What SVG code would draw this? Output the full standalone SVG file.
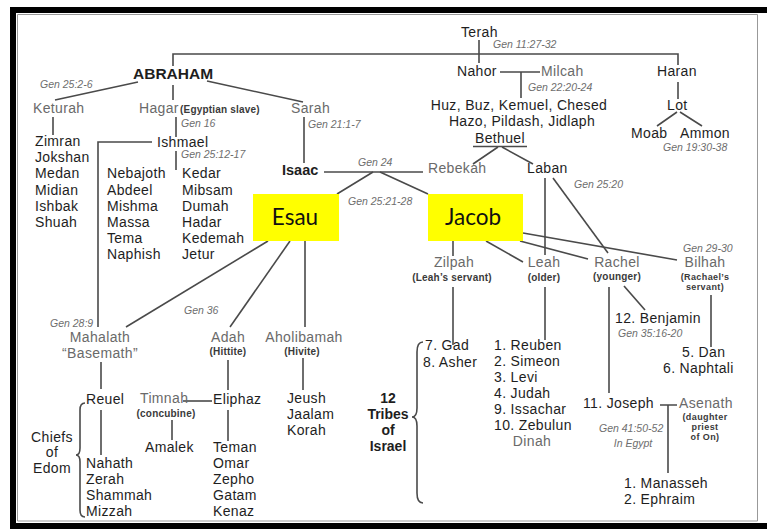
<svg xmlns="http://www.w3.org/2000/svg" width="767" height="529" viewBox="0 0 767 529">
<style>
text{font-family:"Liberation Sans",Arial,sans-serif;font-size:14px;letter-spacing:0.35px;fill:#1e1e1e}
.w{fill:#6a6a6a}
.b{font-weight:700;letter-spacing:0}
.g{font-size:10.5px;font-style:italic;fill:#6e6e6e;letter-spacing:0}
.s{font-size:10px;font-weight:700;fill:#3a3a3a;letter-spacing:0.2px}
.t{font-size:9px;font-weight:700;fill:#3a3a3a;letter-spacing:0.4px}
.m{text-anchor:middle}
.big{font-family:Lato,"Open Sans",sans-serif;font-size:22.5px;fill:#111;letter-spacing:0}
.box{fill:#ffff00}
#connectors path{fill:none;stroke:#4a4a4a;stroke-width:1.6}
</style>
<rect x="0" y="0" width="767" height="529" fill="#fff"/>
<g id="frame">
<path d="M13,529 V10 H767" fill="none" stroke="#000" stroke-width="6"/>
<path d="M10,526 H767" fill="none" stroke="#000" stroke-width="6"/>
<path d="M17.5,521 V14.5 H757.5 V521 Z" fill="none" stroke="#999" stroke-width="1"/>
</g>
<g id="connectors">
<path d="M173,66 V54 H678 V65"/>
<path d="M479,40 V63"/>
<path d="M500,72 H540 M521,72 V98"/>
<path d="M678,82 V99"/>
<path d="M677,112 L657,126 M680,112 L702,126"/>
<path d="M138,82 L55,100"/>
<path d="M173,85 V100"/>
<path d="M207,81 L303,102"/>
<path d="M53,117 V135"/>
<path d="M176,117 V137"/>
<path d="M152,142 H98 V327"/>
<path d="M176,151 V170"/>
<path d="M304,117 V163"/>
<path d="M324,172 H423"/>
<path d="M373,172 L337,194 M380,172 L428,194"/>
<path d="M498,147 L473,164 M502,147 L533,164"/>
<path d="M545,178 V255"/>
<path d="M553,178 L608,253"/>
<path d="M268,241 L126,327"/>
<path d="M290,241 L230,327"/>
<path d="M305,241 V327"/>
<path d="M453,241 V256"/>
<path d="M486,241 L523,262"/>
<path d="M520,241 L588,259"/>
<path d="M523,233 L677,260"/>
<path d="M453,287 V345"/>
<path d="M545,287 V340"/>
<path d="M609,287 V393"/>
<path d="M624,286 L645,310"/>
<path d="M711,295 V347"/>
<path d="M660,405 H677 M668,405 V473"/>
<path d="M101,362 V389"/>
<path d="M101,410 V455"/>
<path d="M228,360 V390"/>
<path d="M183,401 H212"/>
<path d="M172,420 V440"/>
<path d="M228,410 V441"/>
<path d="M303,358 V390"/>
<path d="M473,146.5 H527"/>
<path d="M423,342 Q417,342 417,352 V408 Q417,417 412,417 Q417,417 417,426 V493 Q417,503 423,503"/>
<path d="M85,403 Q80,403 80,410 V448 Q80,455 76,455 Q80,455 80,462 V510 Q80,517 85,517"/>
</g>
<g id="terah"><text x="461" y="37">Terah</text><text class="g" x="493" y="48">Gen 11:27-32</text></g>
<g id="nahor"><text x="457" y="76">Nahor</text></g>
<g id="milcah"><text class="w" x="541" y="76">Milcah</text><text class="g" x="528" y="91">Gen 22:20-24</text></g>
<g id="haran"><text x="657" y="76">Haran</text></g>
<g id="lot"><text x="667" y="110">Lot</text></g>
<g id="moab"><text x="631" y="138">Moab</text></g>
<g id="ammon"><text x="680" y="138">Ammon</text><text class="g" x="663" y="151">Gen 19:30-38</text></g>
<g id="nahor-sons"><text class="m" x="519" y="110.3">Huz, Buz, Kemuel, Chesed</text><text class="m" x="522" y="126">Hazo, Pildash, Jidlaph</text></g>
<g id="bethuel"><text class="m" x="500" y="143">Bethuel</text></g>
<g id="rebekah"><text class="w" x="428" y="173">Rebekah</text></g>
<g id="laban"><text x="527" y="173">Laban</text><text class="g" x="574" y="188">Gen 25:20</text></g>
<g id="abraham"><text class="b" x="133" y="79" style="font-size:15.5px">ABRAHAM</text><text class="g" x="40" y="88">Gen 25:2-6</text></g>
<g id="keturah"><text class="w" x="33" y="113">Keturah</text></g>
<g id="hagar"><text class="w" x="139" y="113">Hagar</text><text class="s" x="180" y="113">(Egyptian slave)</text><text class="g" x="181" y="127">Gen 16</text></g>
<g id="sarah"><text class="w" x="291" y="113">Sarah</text><text class="g" x="308" y="128">Gen 21:1-7</text></g>
<g id="keturah-sons"><text x="35" y="146">Zimran</text><text x="35" y="162">Jokshan</text><text x="35" y="178">Medan</text><text x="35" y="195">Midian</text><text x="35" y="211">Ishbak</text><text x="35" y="227">Shuah</text></g>
<g id="ishmael"><text x="157" y="147">Ishmael</text><text class="g" x="181" y="158">Gen 25:12-17</text></g>
<g id="ishmael-sons"><text x="107" y="178">Nebajoth</text><text x="107" y="195">Abdeel</text><text x="107" y="211">Mishma</text><text x="107" y="227">Massa</text><text x="107" y="243">Tema</text><text x="107" y="259">Naphish</text>
<text x="182" y="178">Kedar</text><text x="182" y="195">Mibsam</text><text x="182" y="211">Dumah</text><text x="182" y="227">Hadar</text><text x="182" y="243">Kedemah</text><text x="182" y="259">Jetur</text></g>
<g id="isaac"><text class="b" x="282" y="175" style="font-size:14.5px">Isaac</text><text class="g" x="358" y="166">Gen 24</text><text class="g" x="348" y="205">Gen 25:21-28</text></g>
<g id="esau"><rect class="box" x="253" y="194" width="86" height="47"/><text class="big m" x="295" y="225">Esau</text></g>
<g id="jacob"><rect class="box" x="428" y="194" width="95" height="47"/><text class="big m" x="473" y="225">Jacob</text></g>
<g id="zilpah"><text class="w m" x="454" y="267">Zilpah</text><text class="s m" x="452" y="281">(Leah’s servant)</text></g>
<g id="leah"><text class="w m" x="544" y="267">Leah</text><text class="s m" x="544" y="281">(older)</text></g>
<g id="rachel"><text class="w m" x="617" y="267">Rachel</text><text class="s m" x="617" y="280">(younger)</text></g>
<g id="bilhah"><text class="g" x="683" y="252">Gen 29-30</text><text class="w m" x="705" y="267">Bilhah</text><text class="t m" x="705" y="280">(Rachael’s</text><text class="t m" x="705" y="290.1">servant)</text></g>
<g id="benjamin"><text x="615" y="323">12. Benjamin</text><text class="g" x="618" y="336.5">Gen 35:16-20</text></g>
<g id="bilhah-sons"><text x="682" y="357">5. Dan</text><text x="663" y="373">6. Naphtali</text></g>
<g id="zilpah-sons"><text x="425" y="350">7. Gad</text><text x="423" y="367">8. Asher</text></g>
<g id="leah-sons"><text x="494" y="350">1. Reuben</text><text x="494" y="366">2. Simeon</text><text x="494" y="382">3. Levi</text><text x="494" y="398">4. Judah</text><text x="494" y="414">9. Issachar</text><text x="494" y="430">10. Zebulun</text><text class="w m" x="532" y="446">Dinah</text></g>
<g id="joseph"><text x="583" y="408">11. Joseph</text><text class="g" x="599" y="432">Gen 41:50-52</text><text class="g m" x="633" y="447">In Egypt</text></g>
<g id="asenath"><text class="w" x="679" y="408">Asenath</text><text class="t m" x="705" y="420">(daughter</text><text class="t m" x="705" y="430.1">priest</text><text class="t m" x="705" y="440.2">of On)</text></g>
<g id="joseph-sons"><text x="624" y="488">1. Manasseh</text><text x="624" y="504">2. Ephraim</text></g>
<g id="tribes"><text class="b m" x="388" y="403">12</text><text class="b m" x="388" y="419">Tribes</text><text class="b m" x="388" y="435">of</text><text class="b m" x="388" y="451">Israel</text></g>
<g id="mahalath"><text class="g" x="50" y="327">Gen 28:9</text><text class="w m" x="100" y="342">Mahalath</text><text class="w m" x="100" y="358">“Basemath”</text></g>
<g id="adah"><text class="g" x="184" y="314">Gen 36</text><text class="w m" x="228" y="342">Adah</text><text class="s m" x="228" y="355">(Hittite)</text></g>
<g id="aholibamah"><text class="w m" x="304" y="342">Aholibamah</text><text class="s m" x="302" y="355">(Hivite)</text></g>
<g id="reuel"><text x="86" y="404">Reuel</text></g>
<g id="timnah"><text class="w" x="140" y="403">Timnah</text><text class="s m" x="166" y="416.5">(concubine)</text></g>
<g id="eliphaz"><text x="213" y="404">Eliphaz</text></g>
<g id="amalek"><text x="145" y="452">Amalek</text></g>
<g id="eliphaz-sons"><text x="213" y="452">Teman</text><text x="213" y="468">Omar</text><text x="213" y="484">Zepho</text><text x="213" y="500">Gatam</text><text x="213" y="516">Kenaz</text></g>
<g id="reuel-sons"><text x="86" y="468">Nahath</text><text x="86" y="484">Zerah</text><text x="86" y="500">Shammah</text><text x="86" y="516">Mizzah</text></g>
<g id="chiefs"><text class="m" x="52" y="441.5">Chiefs</text><text class="m" x="52" y="457.3">of</text><text class="m" x="52" y="473.1">Edom</text></g>
<g id="jeush"><text x="287" y="403">Jeush</text><text x="287" y="419">Jaalam</text><text x="287" y="435">Korah</text></g>
</svg>
